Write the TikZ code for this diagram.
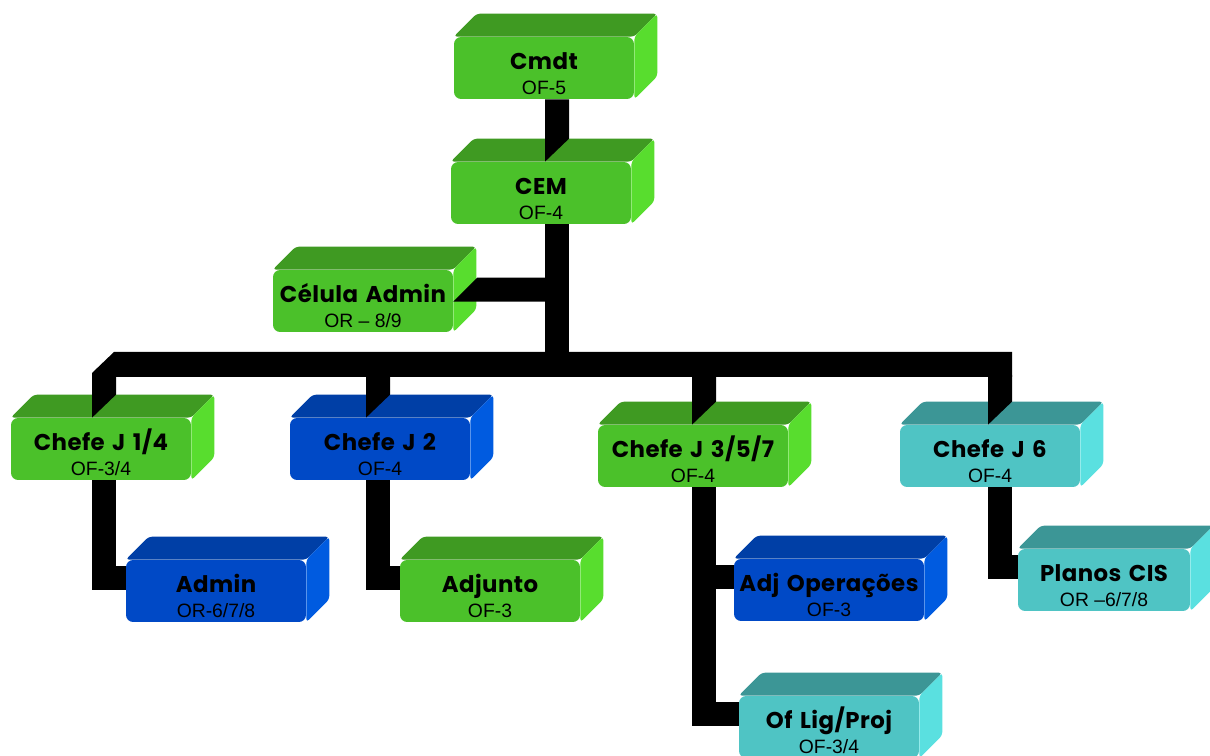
\documentclass[tikz,border=0pt]{standalone}
\usepackage{fontspec}
\setmainfont{Liberation Sans}
\newfontfamily\titlefont[LetterSpace=2,WordSpace=1.4]{Poppins}
\usetikzlibrary{positioning,calc}

\definecolor{grnfront}{HTML}{4BC12A}
\definecolor{grntop}{HTML}{3F9A22}
\definecolor{grnside}{HTML}{58DD2E}
\definecolor{blufront}{HTML}{0049C6}
\definecolor{blutop}{HTML}{003FA6}
\definecolor{bluside}{HTML}{005BE0}
\definecolor{cynfront}{HTML}{4FC4C4}
\definecolor{cyntop}{HTML}{3C9696}
\definecolor{cynside}{HTML}{5AE0E0}

\newcommand\ranktxt[1]{{\rmfamily\mdseries\fontsize{11}{12}\selectfont #1}}
% top and side faces of a box
\newcommand\faces[2]{%
  \fill[#2top, rounded corners=2pt] (#1.north west) -- (#1.north east) -- ++(23,-23) -- ($(#1.north west)+(23,-23)$) -- cycle;
  \fill[#2side, rounded corners=2pt] (#1.north east) -- (#1.south east) -- ++(23,-23) -- ($(#1.north east)+(23,-23)$) -- cycle;
}
% bar going down into the top of a box
\newcommand\dropbar[3]{%
  \fill[bar] ($(#1 -| #3)+(-12,0)$) -- ($(#1 -| #3)+(12,0)$) -- ($(#2.north -| #3)+(12,-23)$) -- ($(#2.north -| #3)+(-12,0)$) -- cycle;
}

\tikzset{
  box/.style={rectangle, rounded corners=4pt, minimum width=3.6cm, minimum height=1.24cm,
    inner sep=0pt, align=center, text=black,
    font=\titlefont\bfseries\fontsize{13}{14}\selectfont,
    execute at begin node={\rule{0pt}{30pt}}},
  wide/.style={minimum width=3.8cm},
  bar/.style={black, line width=0.48cm, line join=miter}
}

\begin{document}
\begin{tikzpicture}[x=0.02cm, y=-0.02cm]
  \useasboundingbox (0,0) rectangle (1210,756);
  \clip (0,0) rectangle (1210,756);

  % boxes
  \node[box, fill=grnfront] (cmdt) at (544,68) {Cmdt\\\ranktxt{OF-5}};
  \faces{cmdt}{grn}
  \node[box, fill=grnfront] (cem) at (541,193) {CEM\\\ranktxt{OF-4}};
  \faces{cem}{grn}
  \node[box, fill=grnfront] (celula) at (363,301) {Célula Admin\\\ranktxt{OR – 8/9}};
  \faces{celula}{grn}

  \node[box, fill=grnfront] (j14) at (101,449) {Chefe J 1/4\\\ranktxt{OF-3/4}};
  \faces{j14}{grn}
  \node[box, fill=blufront] (j2) at (380,449) {Chefe J 2\\\ranktxt{OF-4}};
  \faces{j2}{blu}
  \node[box, wide, fill=grnfront] (j357) at (693,456) {Chefe J 3/5/7\\\ranktxt{OF-4}};
  \faces{j357}{grn}
  \node[box, fill=cynfront] (j6) at (990,456) {Chefe J 6\\\ranktxt{OF-4}};
  \faces{j6}{cyn}

  \node[box, fill=blufront] (admin) at (216,591) {Admin\\\ranktxt{OR-6/7/8}};
  \faces{admin}{blu}
  \node[box, fill=grnfront] (adjunto) at (490,591) {Adjunto\\\ranktxt{OF-3}};
  \faces{adjunto}{grn}
  \node[box, wide, fill=blufront] (adjop) at (829,590) {Adj Operações\\\ranktxt{OF-3}};
  \faces{adjop}{blu}
  \node[box, fill=cynfront] (oflig) at (829,727) {Of Lig/Proj\\\ranktxt{OF-3/4}};
  \faces{oflig}{cyn}
  \node[box, minimum width=3.44cm, fill=cynfront] (planos) at (1104,580) {Planos CIS\\\ranktxt{OR –6/7/8}};
  \faces{planos}{cyn}

  % bars
  \coordinate (trunk) at (557,0);
  \coordinate (d1) at (104,0);
  \coordinate (d2) at (378,0);
  \coordinate (d3) at (704,0);
  \coordinate (d4) at (1000,0);
  \coordinate (hl) at (92,352);
  \coordinate (hr) at (1012,377);
  \coordinate (hb) at (0,375);

  \dropbar{cmdt.south}{cem}{trunk}
  \draw[bar] (cem.south -| trunk) -- (hr -| trunk);
  \fill[bar] ($(celula.north east)+(0,32)$) -- ($(celula.north east -| trunk)+(0,32)$)
    -- ($(celula.north east -| trunk)+(0,8)$) -- ($(celula.north east)+(24,8)$) -- cycle;
  \fill[bar] ($(hl)+(0,21)$) -- ($(hl)+(22,0)$) -- (hl -| hr) -- (hr) -- (hr -| hl) -- cycle;
  \dropbar{hb}{j14}{d1}
  \dropbar{hb}{j2}{d2}
  \dropbar{hb}{j357}{d3}
  \dropbar{hb}{j6}{d4}

  \draw[bar] (j14.south -| d1) |- ($(admin.north west)+(0,18)$);
  \draw[bar] (j2.south -| d2) |- ($(adjunto.north west)+(0,18)$);
  \draw[bar] (j357.south -| d3) |- ($(oflig.north west)+(0,18)$);
  \draw[bar] ($(adjop.north west -| d3)+(0,18)$) -- ($(adjop.north west)+(0,18)$);
  \draw[bar] (j6.south -| d4) |- ($(planos.north west)+(0,18)$);
\end{tikzpicture}
\end{document}
